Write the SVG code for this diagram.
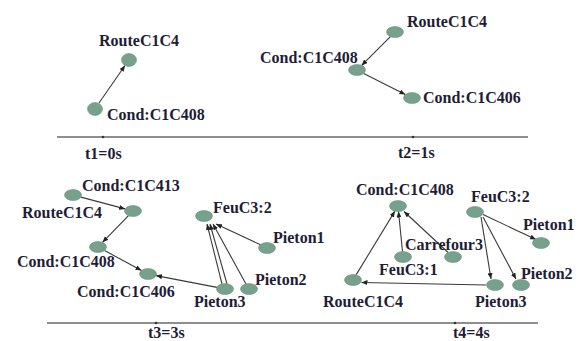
<svg xmlns="http://www.w3.org/2000/svg" width="578" height="341" viewBox="0 0 578 341">
<style>
.n{fill:#77a18d;stroke:#6a9480;stroke-width:0.6}
.t{font-family:'Liberation Serif','Times New Roman','DejaVu Serif',serif;font-weight:700;font-size:16px;fill:#1f1d36}
.e{stroke:#3a3a3a;stroke-width:1.1;fill:none;marker-end:url(#ah)}
.tl{stroke:#8e8e8e;stroke-width:2.2}
.tk{fill:#333}
</style>
<defs>
<marker id="ah" markerUnits="userSpaceOnUse" markerWidth="6" markerHeight="5" refX="6" refY="2.5" orient="auto">
<path d="M0,0 L6,2.5 L0,5 z" fill="#222"/>
</marker>
</defs>
<rect width="578" height="341" fill="#fff"/>

<g id="timelines">
<line class="tl" x1="57" y1="137" x2="528" y2="137"/>
<circle class="tk" cx="103" cy="137" r="1.3"/>
<circle class="tk" cx="413" cy="137" r="1.3"/>
<text class="t" x="85" y="159">t1=0s</text>
<text class="t" x="398" y="158">t2=1s</text>
<line class="tl" x1="47" y1="323" x2="538" y2="323"/>
<circle class="tk" cx="156" cy="323" r="1.3"/>
<circle class="tk" cx="455" cy="323" r="1.3"/>
<text class="t" x="148" y="338">t3=3s</text>
<text class="t" x="453" y="338">t4=4s</text>
</g>

<g id="connectors">
<line class="e" x1="99" y1="103" x2="125" y2="65.5"/>
<line class="e" x1="390.4" y1="36.6" x2="361.6" y2="65.4"/>
<line class="e" x1="363.7" y1="73.4" x2="405.3" y2="94.6"/>
<line class="e" x1="80.9" y1="197.1" x2="125.1" y2="208.9"/>
<line class="e" x1="128.5" y1="215.7" x2="102.5" y2="242.3"/>
<line class="e" x1="104.5" y1="250.5" x2="141.5" y2="270.5"/>
<line class="e" x1="217" y1="287.4" x2="156" y2="275.6"/>
<line class="e" x1="261" y1="245" x2="216" y2="224"/>
<line class="e" x1="246" y1="284" x2="213" y2="224"/>
<line class="e" x1="227" y1="284" x2="210" y2="224"/>
<line class="e" x1="222" y1="284" x2="207" y2="224"/>
<line class="e" x1="356.1" y1="274.9" x2="394.9" y2="211.1"/>
<line class="e" x1="402.5" y1="251.5" x2="398.5" y2="211.5"/>
<line class="e" x1="448.1" y1="252.5" x2="404" y2="211.5"/>
<line class="e" x1="486" y1="285" x2="361.5" y2="282.5"/>
<line class="e" x1="483" y1="214.5" x2="536" y2="239.5"/>
<line class="e" x1="481" y1="217" x2="491" y2="279"/>
<line class="e" x1="483" y1="217" x2="516" y2="279"/>
</g>

<g id="p1-route"><ellipse class="n" cx="129" cy="60" rx="7.5" ry="6.5"/><text class="t" x="99" y="46">RouteC1C4</text></g>
<g id="p1-cond408"><ellipse class="n" cx="95" cy="109" rx="7.5" ry="6.5"/><text class="t" x="107" y="120">Cond:C1C408</text></g>

<g id="p2-route"><ellipse class="n" cx="395" cy="32" rx="8.5" ry="5.5"/><text class="t" x="407" y="27">RouteC1C4</text></g>
<g id="p2-cond408"><ellipse class="n" cx="357" cy="70" rx="8.5" ry="5.5"/><text class="t" x="260" y="63">Cond:C1C408</text></g>
<g id="p2-cond406"><ellipse class="n" cx="412" cy="98" rx="8.5" ry="5.5"/><text class="t" x="423" y="103">Cond:C1C406</text></g>

<g id="p3-route"><ellipse class="n" cx="73" cy="195" rx="8.5" ry="5.5"/><text class="t" x="22" y="218">RouteC1C4</text></g>
<g id="p3-cond413"><ellipse class="n" cx="133" cy="211" rx="8.5" ry="5.5"/><text class="t" x="82" y="191">Cond:C1C413</text></g>
<g id="p3-cond408"><ellipse class="n" cx="98" cy="247" rx="8.5" ry="5.5"/><text class="t" x="17" y="267">Cond:C1C408</text></g>
<g id="p3-cond406"><ellipse class="n" cx="148" cy="274" rx="8.5" ry="5.5"/><text class="t" x="77" y="297">Cond:C1C406</text></g>
<g id="p3-feu2"><ellipse class="n" cx="204" cy="216" rx="8.5" ry="5.5"/><text class="t" x="213" y="213">FeuC3:2</text></g>
<g id="p3-pieton1"><ellipse class="n" cx="267" cy="248" rx="8.5" ry="5.5"/><text class="t" x="273" y="243">Pieton1</text></g>
<g id="p3-pieton2"><ellipse class="n" cx="249" cy="289" rx="8.5" ry="5.5"/><text class="t" x="255" y="285">Pieton2</text></g>
<g id="p3-pieton3"><ellipse class="n" cx="225" cy="289" rx="8.5" ry="5.5"/><text class="t" x="194" y="307">Pieton3</text></g>

<g id="p4-cond408"><ellipse class="n" cx="398" cy="206" rx="8.5" ry="5.5"/><text class="t" x="356" y="195">Cond:C1C408</text></g>
<g id="p4-feu1"><ellipse class="n" cx="403" cy="257" rx="8.5" ry="5.5"/><text class="t" x="379" y="275">FeuC3:1</text></g>
<g id="p4-route"><ellipse class="n" cx="353" cy="280" rx="8.5" ry="5.5"/><text class="t" x="323" y="307">RouteC1C4</text></g>
<g id="p4-carrefour3"><ellipse class="n" cx="453" cy="257" rx="8.5" ry="5.5"/><text class="t" x="405" y="250">Carrefour3</text></g>
<g id="p4-feu2"><ellipse class="n" cx="475" cy="212" rx="8.5" ry="5.5"/><text class="t" x="471" y="202">FeuC3:2</text></g>
<g id="p4-pieton1"><ellipse class="n" cx="541" cy="243" rx="8.5" ry="5.5"/><text class="t" x="523" y="230">Pieton1</text></g>
<g id="p4-pieton3"><ellipse class="n" cx="495" cy="285" rx="8.5" ry="5.5"/><text class="t" x="475" y="307">Pieton3</text></g>
<g id="p4-pieton2"><ellipse class="n" cx="521" cy="285" rx="8.5" ry="5.5"/><text class="t" x="521" y="279">Pieton2</text></g>
</svg>
